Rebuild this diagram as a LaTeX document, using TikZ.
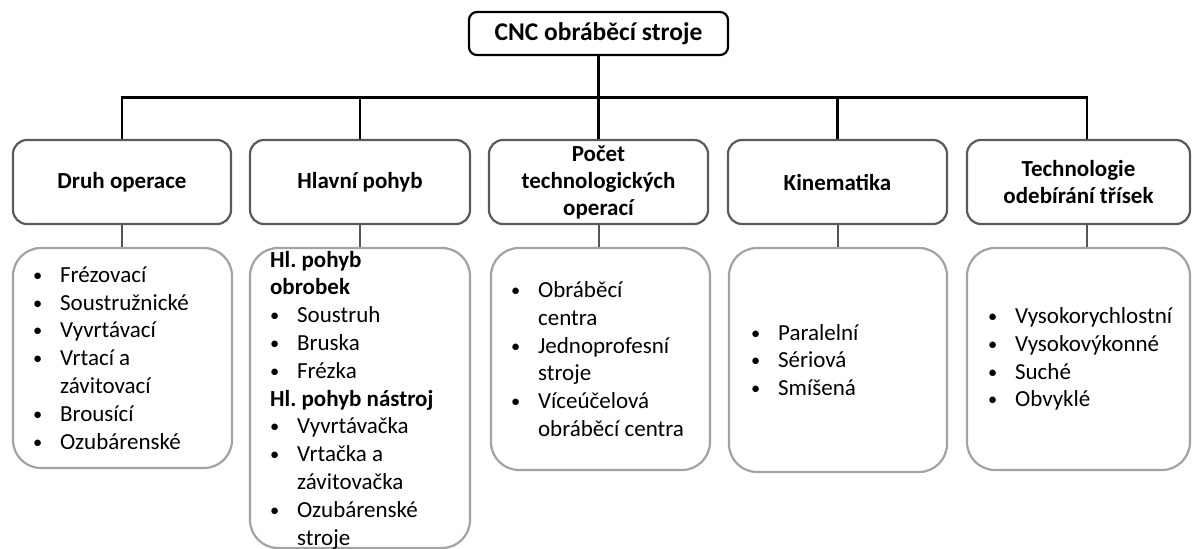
\documentclass[tikz,border=0pt]{standalone}
\usepackage{fontspec}
\setmainfont{Carlito}
\frenchspacing
\definecolor{catgray}{HTML}{5A5A5A}
\definecolor{listgray}{HTML}{A3A3A3}
\definecolor{dropgray}{HTML}{555555}
\newcommand{\li}[1]{\makebox[27pt][l]{\raisebox{1pt}{\scalebox{0.8}{\textbullet}}}#1}
\newcommand{\lc}[1]{\hspace*{27pt}#1}
\begin{document}
\begin{tikzpicture}[x=1pt,y=-1pt,
  topbox/.style={draw=black, line width=2.2pt, rounded corners=8pt, minimum width=259pt, minimum height=43pt, inner sep=0pt, font=\fontsize{25.5}{30}\selectfont\bfseries},
  catbox/.style={draw=catgray, line width=2.2pt, rounded corners=14pt, minimum height=84pt, inner sep=0pt, align=center, font=\fontsize{23}{27}\selectfont\bfseries},
  listbox/.style={draw=listgray, line width=2.2pt, rounded corners=28pt, inner sep=0pt},
  listtext/.style={anchor=west, align=left, inner sep=0pt, font=\fontsize{23}{27.8}\selectfont},
  barline/.style={draw=black, line width=2.5pt},
  dropline/.style={draw=dropgray, line width=2pt}]
\useasboundingbox (0,0) rectangle (1192,549);
\fill[white] (0,0) rectangle (1192,549);

\node[topbox] (top) at (598.5,33.5) {CNC obráběcí stroje};

\node[catbox, minimum width=218pt] (b1) at (122,182) {Druh operace};
\node[catbox, minimum width=220pt] (b2) at (360,182) {Hlavní pohyb};
\node[catbox, minimum width=219pt] (b3) at (598.5,182) {Počet\\technologických\\operací};
\node[catbox, minimum width=219pt] (b4) at (837.5,182) {Kinematika};
\node[catbox, minimum width=223pt] (b5) at (1078.5,182) {Technologie\\odebírání třísek};

\coordinate (bar) at (600,97.5);
\coordinate (b5n) at ([xshift=8.5pt]b5.north);
\coordinate (b5s) at ([xshift=8.5pt]b5.south);

\node[listbox, minimum width=219pt, minimum height=220pt] (c1) at (122.5,358) {};
\node[listbox, minimum width=220pt, minimum height=300pt] (c2) at (360,398) {};
\node[listbox, minimum width=219pt, minimum height=222pt] (c3) at (600.5,359) {};
\node[listbox, minimum width=218pt, minimum height=224pt] (c4) at (838,360) {};
\node[listbox, minimum width=223pt, minimum height=222pt] (c5) at (1078.5,359) {};

\draw[barline] (top.south) -- (top.south |- bar);
\draw[barline] (b1.north) |- (b5n |- bar) -- (b5n);
\draw[barline] (b2.north) -- (b2.north |- bar);
\draw[barline] (b3.north) -- (b3.north |- bar);
\draw[barline] (b4.north) -- (b4.north |- bar);

\draw[dropline] (b1.south) -- (c1.north -| b1.south);
\draw[dropline] (b2.south) -- (c2.north -| b2.south);
\draw[dropline] (b3.south) -- (c3.north -| b3.south);
\draw[dropline] (b4.south) -- (c4.north -| b4.south);
\draw[dropline] (b5s) -- (c5.north -| b5s);

\node[listtext] (t1) at ([xshift=21pt]c1.west) {\li{Frézovací}\\ \li{Soustružnické}\\ \li{Vyvrtávací}\\ \li{Vrtací a}\\ \lc{závitovací}\\ \li{Brousící}\\ \li{Ozubárenské}};
\node[listtext] (t2) at ([xshift=21pt,yshift=-2pt]c2.west) {\textbf{Hl. pohyb}\\ \textbf{obrobek}\\ \li{Soustruh}\\ \li{Bruska}\\ \li{Frézka}\\ \textbf{Hl. pohyb nástroj}\\ \li{Vyvrtávačka}\\ \li{Vrtačka a}\\ \lc{závitovačka}\\ \li{Ozubárenské}\\ \lc{stroje}};
\node[listtext] (t3) at ([xshift=21pt]c3.west) {\li{Obráběcí}\\ \lc{centra}\\ \li{Jednoprofesní}\\ \lc{stroje}\\ \li{Víceúčelová}\\ \lc{obráběcí centra}};
\node[listtext] (t4) at ([xshift=23pt]c4.west) {\li{Paralelní}\\ \li{Sériová}\\ \li{Smíšená}};
\node[listtext] (t5) at ([xshift=22pt]c5.west) {\li{Vysokorychlostní}\\ \li{Vysokovýkonné}\\ \li{Suché}\\ \li{Obvyklé}};
\end{tikzpicture}
\end{document}
